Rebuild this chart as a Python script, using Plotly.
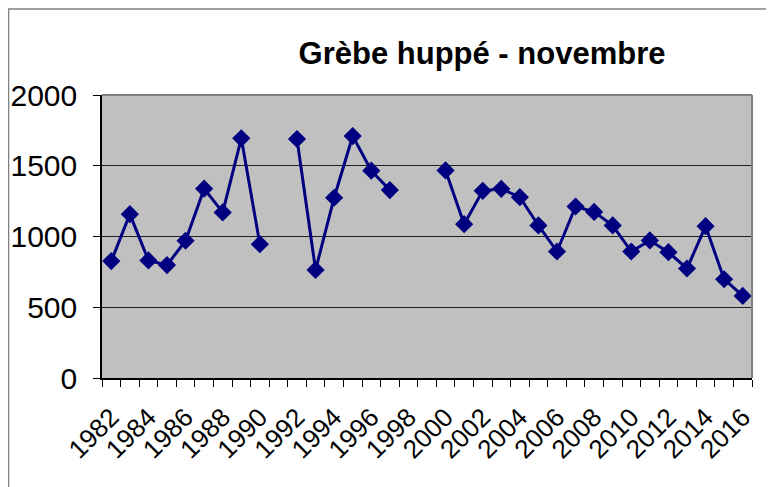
import plotly.graph_objects as go

years = list(range(1982, 2017))
counts = [826, 1158, 831, 798, 970, 1338, 1170, 1694, 946, None,
          1689, 764, 1274, 1710, 1465, 1328, None, None,
          1467, 1087, 1323, 1337, 1278, 1078, 894, 1212, 1174, 1078,
          894, 972, 889, 774, 1073, 698, 580]
label_years = list(range(1982, 2017, 2))
y_ticks = [0, 500, 1000, 1500, 2000]

OFF = 8  # page offset of the figure
W, H = 774 - OFF, 487 - OFF
L, T = 102 - OFF, 95 - OFF
R = W - (752 - OFF)
B = H - (378 - OFF)
pw, ph = W - L - R, H - T - B

fig = go.Figure()
fig.add_trace(go.Scatter(
    x=years, y=counts, mode="lines+markers",
    line=dict(color="#000080", width=3),
    marker=dict(symbol="diamond", size=14, color="#000080"),
    connectgaps=False, hoverinfo="x+y",
))

font = "Arial, Liberation Sans, sans-serif"

def px(x):
    return (x - OFF - L) / pw

def py(y):
    return (H - B - (y - OFF)) / ph

fig.update_layout(
    width=W, height=H,
    margin=dict(l=L, r=R, t=T, b=B, pad=0, autoexpand=False),
    paper_bgcolor="white", plot_bgcolor="#C0C0C0",
    showlegend=False,
    title=dict(text="<b>Grèbe huppé - novembre</b>",
               font=dict(family=font, size=31, color="black"),
               x=(482 - OFF) / W, xref="container", xanchor="center",
               y=1 - (53 - OFF) / H, yref="container", yanchor="middle"),
    xaxis=dict(range=[1981.5, 2016.5], tickmode="array", tickvals=label_years,
               ticktext=[str(v) for v in label_years], tickangle=-45,
               ticks="", showgrid=False, zeroline=False, automargin=False,
               showline=True, linecolor="black", linewidth=1.5,
               ticklabelstandoff=12,
               tickfont=dict(family=font, size=26, color="black"),
               minor=dict(ticks="outside", ticklen=7, tick0=1981.5, dtick=1,
                          tickcolor="black", tickwidth=1, showgrid=False)),
    yaxis=dict(range=[0, 2000], tickmode="array", tickvals=y_ticks,
               ticks="outside", ticklen=7, tickcolor="black", automargin=False,
               showgrid=True, gridcolor="#202020", gridwidth=1,
               zeroline=False, showline=True, linecolor="black", linewidth=1.5,
               ticklabelstandoff=10,
               tickfont=dict(family=font, size=30, color="black")),
    shapes=[
        dict(type="line", xref="paper", yref="paper", x0=0, x1=1, y0=1, y1=1,
             line=dict(color="#808080", width=2)),
        dict(type="line", xref="paper", yref="paper", x0=1, x1=1, y0=0, y1=1,
             line=dict(color="#808080", width=2)),
        dict(type="line", xref="paper", yref="paper", x0=px(8.5), x1=px(8.5),
             y0=py(9), y1=py(495), line=dict(color="#808080", width=1.5)),
        dict(type="line", xref="paper", yref="paper", x0=px(8), x1=px(780),
             y0=py(9), y1=py(9), line=dict(color="#808080", width=1.5)),
    ],
)

fig.write_html("out.html")
